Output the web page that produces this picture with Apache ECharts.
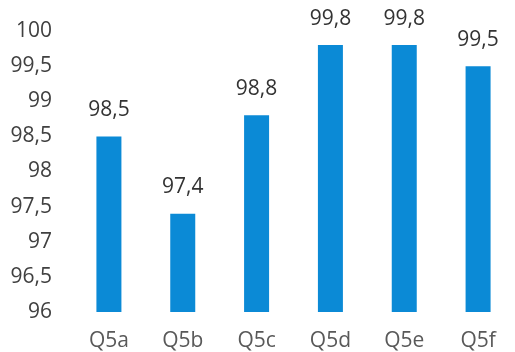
<!DOCTYPE html>
<html>
<head>
<meta charset="utf-8">
<style>
  html, body { margin: 0; padding: 0; background: #fff; }
  #chart { width: 515px; height: 352px; }
</style>
<script src="https://cdn.jsdelivr.net/npm/echarts@6/dist/echarts.min.js"></script>
</head>
<body>
<div id="chart"></div>
<script>
// Average scores per question
const categories = ['Q5a', 'Q5b', 'Q5c', 'Q5d', 'Q5e', 'Q5f'];
const scores = [98.5, 97.4, 98.8, 99.8, 99.8, 99.5];

const comma = v => String(v).replace('.', ',');

const chart = echarts.init(document.getElementById('chart'));
chart.setOption({
  animation: false,
  grid: { left: 72, right: -17, top: 31, bottom: 40, containLabel: false },
  xAxis: {
    type: 'category',
    data: categories,
    axisLine: { show: false },
    axisTick: { show: false },
    axisLabel: {
      margin: 19,
      fontFamily: 'Open Sans',
      fontSize: 21,
      color: '#595959'
    }
  },
  yAxis: {
    type: 'value',
    min: 96,
    max: 100,
    interval: 0.5,
    splitLine: { show: false },
    axisLine: { show: false },
    axisTick: { show: false },
    axisLabel: {
      margin: 20,
      fontFamily: 'Open Sans',
      fontSize: 21,
      color: '#404040',
      formatter: v => comma(v)
    }
  },
  series: [{
    type: 'bar',
    data: scores,
    barWidth: 25,
    itemStyle: { color: '#0B8AD6' },
    label: {
      show: true,
      position: 'top',
      distance: 16,
      fontFamily: 'Open Sans',
      fontSize: 21,
      color: '#333333',
      formatter: p => comma(p.value)
    }
  }]
});
</script>
</body>
</html>
